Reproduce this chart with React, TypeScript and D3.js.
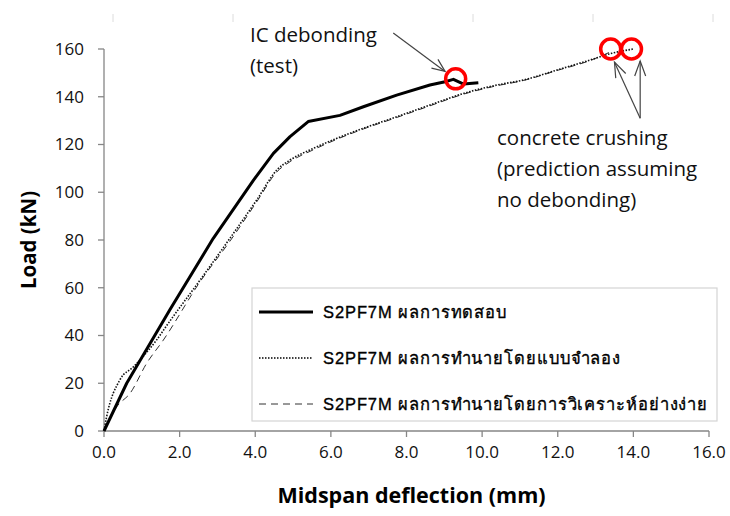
import React from 'react';
import * as d3 from 'd3';

type Pt = [number, number];

// S2PF7M test (solid)
const testCurve: Pt[] = [
  [0, 0], [0.6, 20], [1.75, 51], [2.89, 80.7], [3.95, 105], [4.48, 116.3],
  [4.92, 123.3], [5.4, 129.6], [6.24, 132.2], [6.86, 135.8], [7.74, 140.7],
  [8.62, 144.9], [9.02, 146.3], [9.24, 147.3], [9.51, 145.3], [9.9, 145.9],
];

// FE model prediction (dotted)
const modelCurve: Pt[] = [
  [0, 0], [0.07, 6], [0.42, 21.4], [0.78, 26.9], [1.39, 38.1], [1.7, 45.1],
  [2.54, 63.2], [3.33, 80.7], [4.04, 96.8], [4.57, 109.3], [4.92, 113.5],
  [5.54, 118.4], [6.16, 122.6], [6.86, 126.8], [7.74, 131.6], [8.62, 136.5],
  [9.51, 141.4], [10.39, 144.9], [11.09, 147.0], [11.98, 151.2], [12.86, 155.4],
  [13.43, 158.2], [14.0, 160],
];

// simplified analysis prediction (dashed)
const simpleCurve: Pt[] = [
  [0, 0], [0.34, 10.2], [0.69, 15.8], [1.13, 28.4], [1.57, 38.1], [2.54, 62.5],
  [3.33, 79.5], [4.04, 96], [4.57, 108.5], [4.92, 112.8], [5.54, 117.8],
  [6.16, 122.2], [6.86, 126.5], [7.74, 131.3], [8.62, 136.2], [9.51, 141.1],
  [10.39, 144.6], [11.09, 146.8], [11.98, 151], [12.86, 155.2], [13.45, 159.2],
];

const xTicks = [0, 2, 4, 6, 8, 10, 12, 14, 16];
const yTicks = [0, 20, 40, 60, 80, 100, 120, 140, 160];

const legendLabels = [
  'S2PF7M ผลการทดสอบ',
  'S2PF7M ผลการทำนายโดยแบบจำลอง',
  'S2PF7M ผลการทำนายโดยการวิเคราะห์อย่างง่าย',
];

// failure markers (deflection, load)
const debondPoint: Pt = [9.3, 147.5];
const crushPoints: Pt[] = [[13.4, 160], [13.95, 160]];

const tickFont = "'Open Sans', 'Lato', sans-serif";
const legendFont = "'Liberation Sans', 'DejaVu Sans', 'Noto Sans', sans-serif";

export default function App() {
  const width = 730;
  const height = 516;
  const margin = { top: 49, right: 21, bottom: 85, left: 104 };

  const x = d3.scaleLinear().domain([0, 16]).range([margin.left, width - margin.right]);
  const y = d3.scaleLinear().domain([0, 160]).range([height - margin.bottom, margin.top]);

  const line = d3.line<Pt>().x(d => x(d[0])).y(d => y(d[1])).curve(d3.curveMonotoneX);
  const testLine = d3.line<Pt>().x(d => x(d[0])).y(d => y(d[1])).curve(d3.curveLinear);

  const axisColor = '#868686';
  const x0 = x(0);
  const y0 = y(0);

  const arrowHead = (tx: number, ty: number, fx: number, fy: number, len = 14, spread = 0.4) => {
    const ang = Math.atan2(fy - ty, fx - tx);
    const a1 = ang - spread;
    const a2 = ang + spread;
    return `M${tx + len * Math.cos(a1)},${ty + len * Math.sin(a1)} L${tx},${ty} L${tx + len * Math.cos(a2)},${ty + len * Math.sin(a2)}`;
  };

  // annotation arrow geometry (pixel, derived from data points)
  const icFrom: [number, number] = [x(7.65), y(166.7)];
  const icTo: [number, number] = [x(9.02), y(150.6)];
  const crFrom: [number, number] = [x(14.18), y(131)];
  const crTo1: [number, number] = [x(13.5), y(154.5)];
  const crTo2: [number, number] = [x(14.18), y(155)];

  const legendX = 252;
  const legendY = 288;
  const legendW = 465;
  const legendH = 133;

  return (
    <svg width={width} height={height} style={{ position: 'absolute', left: 0, top: 0, background: '#fff' }}>
      {/* faint artefact marks at top */}
      {[113, 233, 473, 593, 713].map(px => (
        <line key={px} x1={px} x2={px} y1={14} y2={22} stroke="#dcdcdc" strokeWidth={1} />
      ))}

      {/* axes */}
      <line x1={x0} x2={x0} y1={y(160)} y2={y0} stroke={axisColor} strokeWidth={1.3} />
      <line x1={x0} x2={x(16)} y1={y0} y2={y0} stroke={axisColor} strokeWidth={1.3} />
      {yTicks.map(t => (
        <g key={`y${t}`}>
          <line x1={x0 - 6} x2={x0} y1={y(t)} y2={y(t)} stroke={axisColor} strokeWidth={1.3} />
          <text x={x0 - 20} y={y(t)} dy="0.35em" textAnchor="end" fontFamily={tickFont} fontSize={17} fill="#111">
            {t}
          </text>
        </g>
      ))}
      {xTicks.map(t => (
        <g key={`x${t}`}>
          <line x1={x(t)} x2={x(t)} y1={y0} y2={y0 + 6} stroke={axisColor} strokeWidth={1.3} />
          <text x={x(t)} y={y0 + 27} textAnchor="middle" fontFamily={tickFont} fontSize={17} fill="#111">
            {t.toFixed(1)}
          </text>
        </g>
      ))}

      <text transform={`translate(36,${(y(0) + y(160)) / 2}) rotate(-90)`} textAnchor="middle"
        fontFamily={tickFont} fontWeight="bold" fontSize={20.5} fill="#000">
        Load (kN)
      </text>
      <text x={(x(0) + x(16)) / 2 + 5} y={503} textAnchor="middle" fontFamily={tickFont} fontWeight="bold" fontSize={21.5} fill="#000">
        Midspan deflection (mm)
      </text>

      {/* curves */}
      <path d={line(simpleCurve) || ''} fill="none" stroke="#333" strokeWidth={1} strokeDasharray="7,5" />
      <path d={line(modelCurve) || ''} fill="none" stroke="#111" strokeWidth={1.6} strokeDasharray="1.5,1.5" />
      <path d={testLine(testCurve) || ''} fill="none" stroke="#000" strokeWidth={3} strokeLinejoin="round" />

      {/* legend */}
      <rect x={legendX} y={legendY} width={legendW} height={legendH} fill="#fff" stroke="#d4d4d4" strokeWidth={1.2} />
      {legendLabels.map((lab, i) => {
        const ly = legendY + 24 + i * 46;
        return (
          <g key={lab}>
            <line x1={legendX + 7} x2={legendX + 61} y1={ly} y2={ly} stroke={i === 2 ? '#333' : '#000'}
              strokeWidth={i === 0 ? 3 : i === 1 ? 1.6 : 1}
              strokeDasharray={i === 0 ? undefined : i === 1 ? '1.5,1.5' : '7,5'} />
            <text x={legendX + 71} y={ly} dy="0.35em" fontFamily={legendFont} fontSize={16.5} letterSpacing={0.9}
              fill="#000" stroke="#000" strokeWidth={0.35}>
              {lab}
            </text>
          </g>
        );
      })}

      {/* annotations */}
      <g stroke="#444" strokeWidth={1.2} fill="none">
        <line x1={icFrom[0]} y1={icFrom[1]} x2={icTo[0]} y2={icTo[1]} />
        <path d={arrowHead(icTo[0], icTo[1], icFrom[0], icFrom[1])} />
        <line x1={crFrom[0]} y1={crFrom[1]} x2={crTo1[0]} y2={crTo1[1]} />
        <path d={arrowHead(crTo1[0], crTo1[1], crFrom[0], crFrom[1], 16, 0.35)} />
        <line x1={crFrom[0]} y1={crFrom[1]} x2={crTo2[0]} y2={crTo2[1]} />
        <path d={arrowHead(crTo2[0], crTo2[1], crFrom[0], crFrom[1], 16, 0.35)} />
      </g>
      <circle cx={x(debondPoint[0])} cy={y(debondPoint[1])} r={10} fill="none" stroke="#f00" strokeWidth={3.5} />
      {crushPoints.map((p, i) => (
        <circle key={i} cx={x(p[0])} cy={y(p[1])} r={10} fill="none" stroke="#f00" strokeWidth={3.5} />
      ))}

      <g fontFamily={tickFont} fontSize={20.5} fill="#111">
        <text x={250} y={42}>IC debonding</text>
        <text x={250} y={73}>(test)</text>
        <text x={497} y={145}>concrete crushing</text>
        <text x={497} y={176}>(prediction assuming</text>
        <text x={497} y={207}>no debonding)</text>
      </g>
    </svg>
  );
}
